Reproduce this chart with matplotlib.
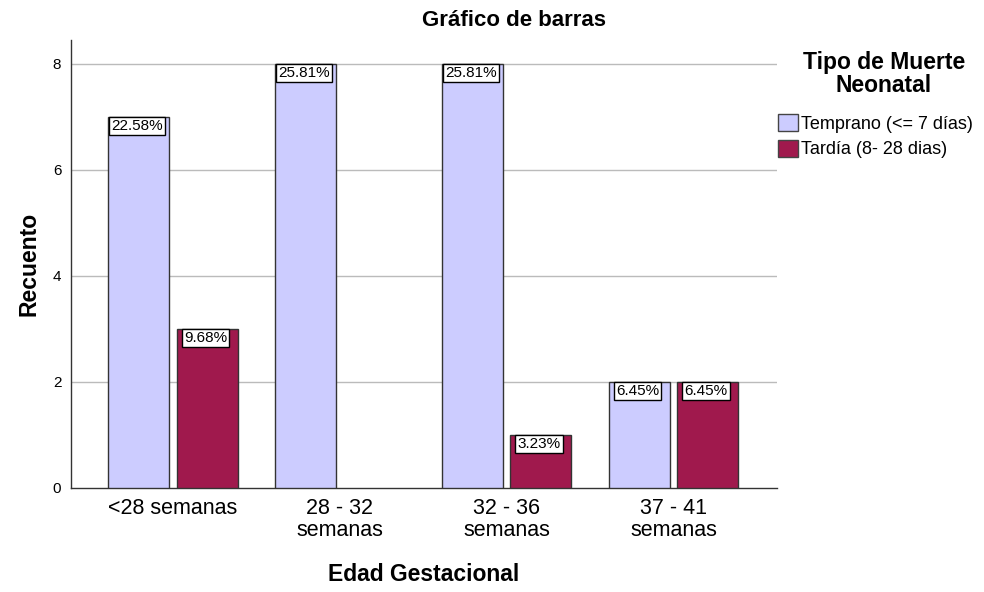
import matplotlib.pyplot as plt
import numpy as np

plt.rcParams['font.family'] = ['Liberation Sans', 'DejaVu Sans']

# Data
categories = ['<28 semanas', '28 - 32\nsemanas', '32 - 36\nsemanas', '37 - 41\nsemanas']
series_names = ['Temprano (<= 7 días)', 'Tardía (8- 28 dias)']
temprano = [7, 8, 8, 2]
tardia = [3, 0, 1, 2]

colors = ['#CCCCFF', '#A0194D']

fig = plt.figure(figsize=(9.84, 5.92), dpi=100)
ax = fig.add_axes([0.0722, 0.1757, 0.7174, 0.7567])

total = sum(temprano) + sum(tardia)
x = np.arange(len(categories))
width = 0.365
offset = 0.205

for vals, off, col, name in [(temprano, -offset, colors[0], series_names[0]),
                             (tardia, offset, colors[1], series_names[1])]:
    bars = ax.bar(x + off, vals, width, color=col, edgecolor='#333333',
                  linewidth=1, label=name, zorder=3)
    for b, v in zip(bars, vals):
        if v == 0:
            b.set_linewidth(0)
            continue
        ax.text(b.get_x() + b.get_width() / 2 - 0.01, v - 0.04, f'{v / total * 100:.2f}%',
                ha='center', va='top', fontsize=11, zorder=5,
                bbox=dict(boxstyle='square,pad=0.15', facecolor='white',
                          edgecolor='black', linewidth=1))

ax.set_xlim(-0.61, 3.62)
ax.set_ylim(0, 8.45)
ax.set_yticks([0, 2, 4, 6, 8])
ax.set_xticks(x)
ax.set_xticklabels(categories, fontsize=15.5, linespacing=1.05)
ax.tick_params(axis='y', labelsize=11, length=0, pad=7)
ax.tick_params(axis='x', length=0, pad=7)
for yv in [2, 4, 6, 8]:
    ax.axhline(yv, color='#BBBBBB', linewidth=1, zorder=1)

for s in ['top', 'right']:
    ax.spines[s].set_visible(False)
for s in ['left', 'bottom']:
    ax.spines[s].set_color('#333333')
    ax.spines[s].set_linewidth(1)

fig.text(0.522, 1 - 21 / 592, 'Gráfico de barras', fontsize=16, fontweight='bold',
         ha='center', va='center')
ax.set_xlabel('Edad Gestacional', fontsize=16.5, fontweight='bold', labelpad=16)
ax.set_ylabel('Recuento', fontsize=16.5, fontweight='bold', labelpad=9)

# legend title placed separately, entries below
fig.text(884 / 984, 1 - 74 / 592, 'Tipo de Muerte\nNeonatal', fontsize=16.5,
         fontweight='bold', ha='center', va='center', linespacing=1.0)
leg = fig.legend(loc='upper left', bbox_to_anchor=(778 / 984, 1 - 114 / 592),
                 fontsize=13, frameon=False,
                 handlelength=1.1, handleheight=1.05, handletextpad=0.15,
                 labelspacing=0.4, borderaxespad=0, borderpad=0)
for h in leg.legend_handles:
    h.set_edgecolor('#444444')

fig.savefig('out.png', dpi=100)
